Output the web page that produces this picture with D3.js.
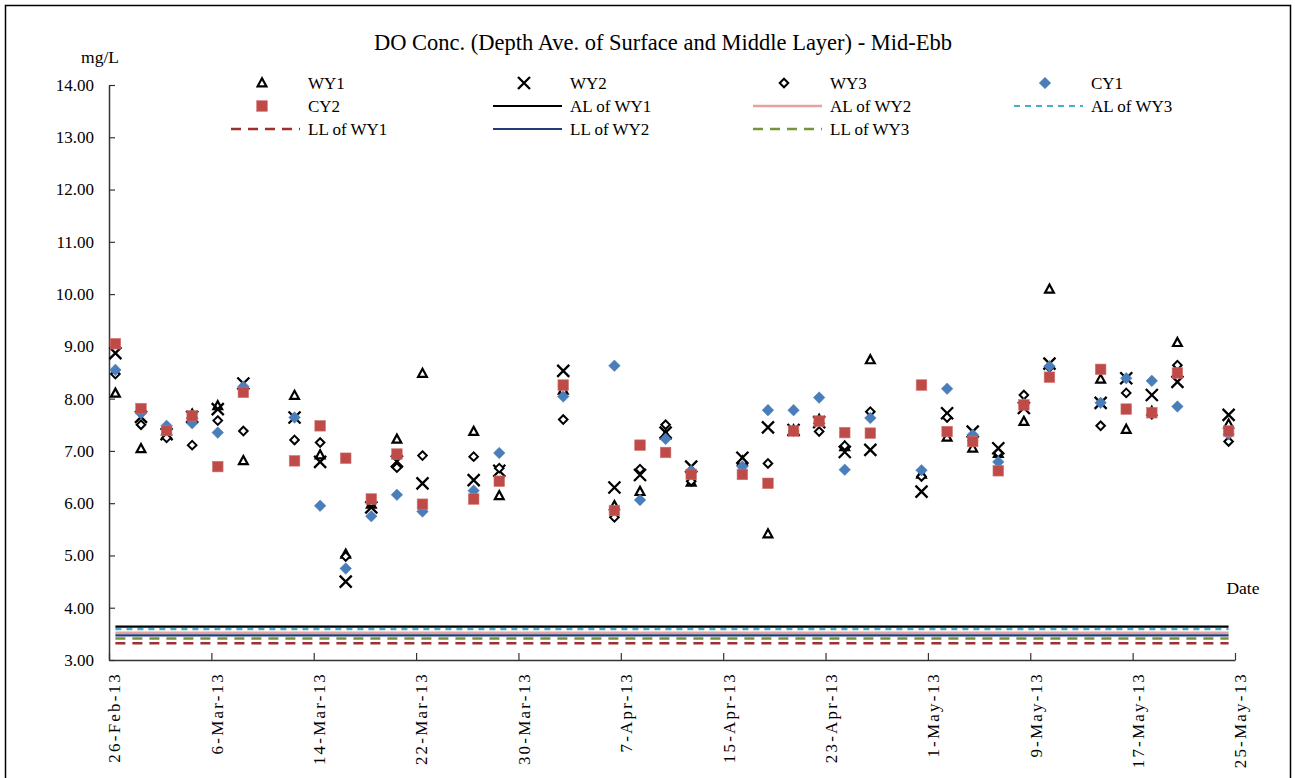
<!DOCTYPE html>
<html>
<head>
<meta charset="utf-8">
<script src="https://cdn.jsdelivr.net/npm/d3@7"></script>
<style>
  html, body { margin: 0; padding: 0; background: #fff; }
  svg { display: block; }
  text { font-family: "Liberation Serif", "Times New Roman", serif; fill: #000; }
</style>
</head>
<body>
<svg id="chart" width="1295" height="778"></svg>
<script>
// Sampling dates (Mid-Ebb surveys)
const sampleDates = ["26-Feb-13","28-Feb-13","2-Mar-13","4-Mar-13","6-Mar-13","8-Mar-13","12-Mar-13","14-Mar-13",
  "16-Mar-13","18-Mar-13","20-Mar-13","22-Mar-13","26-Mar-13","28-Mar-13","2-Apr-13","6-Apr-13","8-Apr-13",
  "10-Apr-13","12-Apr-13","16-Apr-13","18-Apr-13","20-Apr-13","22-Apr-13","24-Apr-13","26-Apr-13","30-Apr-13",
  "2-May-13","4-May-13","6-May-13","8-May-13","10-May-13","14-May-13","16-May-13","18-May-13","20-May-13","24-May-13"];

// DO (mg/L), depth average of surface and middle layer
const wy1 = [8.10,7.04,7.38,7.70,7.86,6.81,8.06,6.92,5.02,5.98,7.22,8.48,7.37,6.14,8.16,5.95,6.22,7.30,6.40,6.80,
  5.41,7.40,7.60,7.08,8.74,6.55,7.26,7.05,6.95,7.56,10.09,8.37,7.41,7.75,9.07,7.51];
const wy2 = [8.87,7.65,7.32,7.65,7.80,8.29,7.64,6.79,4.50,5.92,6.80,6.38,6.44,6.62,8.53,6.30,6.54,7.35,6.70,6.87,
  7.45,7.40,7.55,6.98,7.02,6.22,7.72,7.37,7.05,7.82,8.67,7.92,8.39,8.07,8.32,7.69];
const wy3 = [8.47,7.50,7.25,7.11,7.58,7.38,7.21,7.16,4.98,6.02,6.68,6.91,6.89,6.67,7.60,5.73,6.65,7.50,6.42,6.78,
  6.76,7.38,7.37,7.10,7.75,6.51,7.64,7.20,6.96,8.07,8.60,7.48,8.11,7.70,8.64,7.18];
const cy1 = [8.55,7.72,7.48,7.53,7.35,8.23,7.64,5.95,4.75,5.75,6.16,5.84,6.24,6.96,8.04,8.63,6.06,7.23,6.62,6.70,
  7.78,7.78,8.02,6.64,7.63,6.63,8.19,7.31,6.79,7.90,8.62,7.92,8.39,8.34,7.85,7.32];
const cy2 = [9.05,7.81,7.39,7.67,6.70,8.12,6.81,7.48,6.86,6.08,6.94,5.98,6.08,6.42,8.26,5.86,7.11,6.97,6.55,6.55,
  6.38,7.38,7.57,7.35,7.34,8.26,7.37,7.18,6.62,7.88,8.41,8.56,7.80,7.73,8.49,7.38];

// Action / Limit levels
const limitNames  = ["AL of WY1","AL of WY2","AL of WY3","LL of WY1","LL of WY2","LL of WY3"];
const limitValues = [3.64, 3.52, 3.59, 3.32, 3.47, 3.41];

// Axis ticks
const xTickLabels = ["26-Feb-13","6-Mar-13","14-Mar-13","22-Mar-13","30-Mar-13","7-Apr-13","15-Apr-13",
  "23-Apr-13","1-May-13","9-May-13","17-May-13","25-May-13"];
const yTickValues = [3,4,5,6,7,8,9,10,11,12,13,14];

const parse = d3.utcParse("%d-%b-%y");
const svg = d3.select("#chart");
const serif = "'Liberation Serif', 'Times New Roman', serif";

// outer frame
svg.append("path").attr("d", "M5.5,778 V5.5 H1290.5 V778")
  .attr("fill", "none").attr("stroke", "#000").attr("stroke-width", 1.5);

const plot = { left: 109, right: 1235, top: 85, bottom: 660 };

const x = d3.scaleUtc()
  .domain([parse(xTickLabels[0]), parse(xTickLabels[xTickLabels.length - 1])])
  .range([plot.left, plot.right]);
const y = d3.scaleLinear().domain([3, 14]).range([plot.bottom, plot.top]);

// points sit in the middle of their day
const dayW = x(d3.utcDay.offset(x.domain()[0], 1)) - x(x.domain()[0]);
const px = s => x(parse(s)) + dayW / 2;

// Y axis
const yAxis = d3.axisLeft(y).tickValues(yTickValues).tickFormat(d3.format(".2f"))
  .tickSizeInner(-6).tickSizeOuter(0).tickPadding(15);
const gy = svg.append("g").attr("transform", `translate(${plot.left},0)`).call(yAxis);
gy.select(".domain").attr("stroke", "#333").attr("stroke-width", 1.5);
gy.selectAll(".tick line").attr("stroke", "#333").attr("stroke-width", 1.2);
gy.selectAll(".tick text").style("font-family", serif).attr("font-size", 17).attr("fill", "#000");

// X axis
const xAxis = d3.axisBottom(x).tickValues(xTickLabels.map(parse)).tickFormat(() => "")
  .tickSizeInner(-7).tickSizeOuter(0);
const gx = svg.append("g").attr("transform", `translate(0,${plot.bottom})`).call(xAxis);
gx.select(".domain").attr("stroke", "#333").attr("stroke-width", 1.5);
gx.selectAll(".tick line").attr("stroke", "#333").attr("stroke-width", 1.2);

svg.append("g").selectAll("text").data(xTickLabels).join("text")
  .attr("transform", d => `translate(${px(d) + 5},${plot.bottom + 12}) rotate(-90)`)
  .attr("text-anchor", "end")
  .attr("font-size", 17)
  .attr("letter-spacing", 2.2)
  .text(d => d);

// Titles
svg.append("text").attr("x", 663).attr("y", 50).attr("text-anchor", "middle")
  .attr("font-size", 22.5).text("DO Conc. (Depth Ave. of Surface and Middle Layer) - Mid-Ebb");
svg.append("text").attr("x", 100).attr("y", 63).attr("text-anchor", "middle")
  .attr("font-size", 17.5).text("mg/L");
svg.append("text").attr("x", 1243).attr("y", 594).attr("text-anchor", "middle")
  .attr("font-size", 17.5).text("Date");

// Limit lines
const limitStyles = [
  { color: "#000000", width: 2.2, dash: null },
  { color: "#E6A09E", width: 2.5, dash: null },
  { color: "#4BACC6", width: 2.2, dash: "6,5" },
  { color: "#A0302E", width: 2.5, dash: "10,7" },
  { color: "#1F3C78", width: 2.2, dash: null },
  { color: "#77933C", width: 2.5, dash: "10,7" }
];
const ends = [sampleDates[0], sampleDates[sampleDates.length - 1]];
const lineGen = d3.line().x(d => px(d.date)).y(d => y(d.v));
limitValues.forEach((v, i) => {
  const st = limitStyles[i];
  svg.append("path")
    .datum(ends.map(date => ({ date, v })))
    .attr("d", lineGen)
    .attr("fill", "none")
    .attr("stroke", st.color)
    .attr("stroke-width", st.width)
    .attr("stroke-dasharray", st.dash);
});

// Marker shapes
const markers = {
  tri: g => g.append("path").attr("d", "M0,-4.8 L4.4,3.3 L-4.4,3.3 Z").attr("fill", "#fff")
    .attr("stroke", "#000").attr("stroke-width", 2.2),
  cross: g => g.append("path").attr("d", "M-6,-6 L6,6 M-6,6 L6,-6").attr("fill", "none")
    .attr("stroke", "#000").attr("stroke-width", 2.3),
  openDiamond: g => g.append("path").attr("d", "M0,-4.3 L4.3,0 L0,4.3 L-4.3,0 Z").attr("fill", "#fff")
    .attr("stroke", "#000").attr("stroke-width", 2),
  blueDiamond: g => g.append("path").attr("d", "M0,-5.8 L5.8,0 L0,5.8 L-5.8,0 Z").attr("fill", "#4A7EBB")
    .attr("stroke", "#4A7EBB").attr("stroke-width", 0.5),
  redSquare: g => g.append("rect").attr("x", -5.3).attr("y", -5.3).attr("width", 10.6).attr("height", 10.6)
    .attr("fill", "#BE4B48").attr("stroke", "#D27572").attr("stroke-width", 0.6)
};

const pointSeries = [
  { name: "WY1", values: wy1, mk: "tri" },
  { name: "WY2", values: wy2, mk: "cross" },
  { name: "WY3", values: wy3, mk: "openDiamond" },
  { name: "CY1", values: cy1, mk: "blueDiamond" },
  { name: "CY2", values: cy2, mk: "redSquare" }
];

pointSeries.forEach(s => {
  const g = svg.append("g");
  s.values.forEach((v, i) => {
    const m = g.append("g").attr("transform", `translate(${px(sampleDates[i])},${y(v)})`);
    markers[s.mk](m);
  });
});

// Legend
const legendItems = [
  { label: "WY1", mk: "tri" }, { label: "WY2", mk: "cross" }, { label: "WY3", mk: "openDiamond" }, { label: "CY1", mk: "blueDiamond" },
  { label: "CY2", mk: "redSquare" }, { label: limitNames[0], line: 0 }, { label: limitNames[1], line: 1 }, { label: limitNames[2], line: 2 },
  { label: limitNames[3], line: 3 }, { label: limitNames[4], line: 4 }, { label: limitNames[5], line: 5 }
];
const colText = [308, 570, 830, 1091];
const rowY = [83, 106, 129];
const lg = svg.append("g");
legendItems.forEach((it, k) => {
  const col = k % 4, row = Math.floor(k / 4);
  const tx = colText[col], ty = rowY[row];
  if (it.mk) {
    const m = lg.append("g").attr("transform", `translate(${tx - 46},${ty})`);
    markers[it.mk](m);
  } else {
    const st = limitStyles[it.line];
    lg.append("line").attr("x1", tx - 77).attr("x2", tx - 8).attr("y1", ty).attr("y2", ty)
      .attr("stroke", st.color).attr("stroke-width", st.width).attr("stroke-dasharray", st.dash);
  }
  lg.append("text").attr("x", tx).attr("y", ty + 6).attr("font-size", 17).text(it.label);
});
</script>
</body>
</html>
